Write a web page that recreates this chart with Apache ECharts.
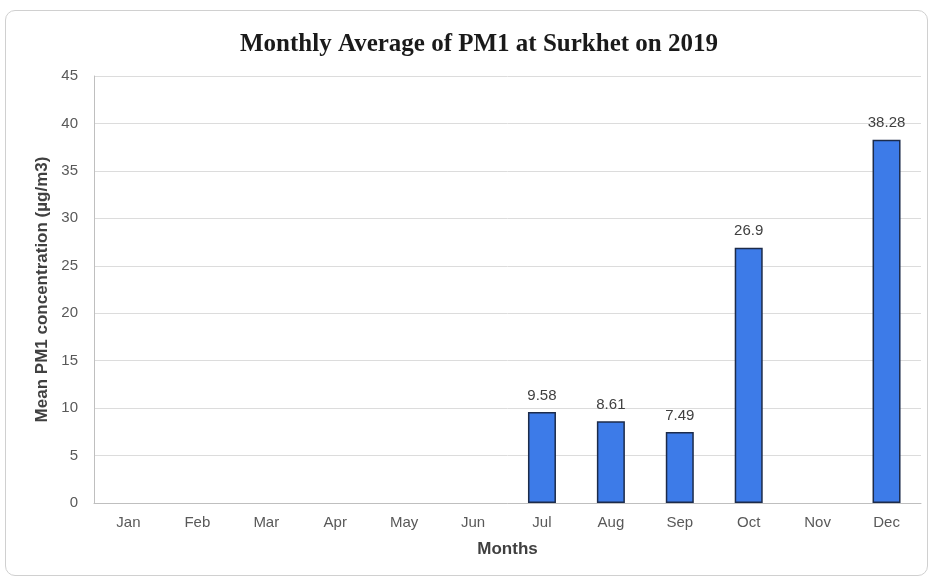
<!DOCTYPE html>
<html>
<head>
<meta charset="utf-8">
<script src="https://cdn.jsdelivr.net/npm/echarts@6/dist/echarts.min.js"></script>
<style>
  html, body { margin: 0; padding: 0; background: #fff; }
  .frame {
    position: absolute;
    left: 5px; top: 10px;
    width: 923px; height: 566px;
    border: 1px solid #d0d0d0;
    border-radius: 10px;
    box-sizing: border-box;
  }
  #chart { position: absolute; left: 0; top: 0; width: 933px; height: 581px; }
</style>
</head>
<body>
<div class="frame"></div>
<div id="chart"></div>
<script>
const months = ['Jan', 'Feb', 'Mar', 'Apr', 'May', 'Jun', 'Jul', 'Aug', 'Sep', 'Oct', 'Nov', 'Dec']
const pm1 = [null, null, null, null, null, null, 9.58, 8.61, 7.49, 26.9, null, 38.28]

const chart = echarts.init(document.getElementById('chart'))

const option = {
  animation: false,
  title: {
    text: 'Monthly Average of PM1 at Surkhet on 2019',
    left: 474,
    textAlign: 'center',
    top: 27,
    textStyle: {
      fontFamily: 'Liberation Serif',
      fontWeight: 'bold',
      fontSize: 25,
      color: '#1a1a1a'
    }
  },
  grid: {
    left: 94,
    right: 12,
    top: 76,
    bottom: 78
  },
  xAxis: {
    type: 'category',
    data: months,
    name: 'Months',
    nameLocation: 'middle',
    nameGap: 38,
    nameTextStyle: {
      fontFamily: 'Liberation Sans',
      fontWeight: 'bold',
      fontSize: 17,
      color: '#404040'
    },
    axisLine: { lineStyle: { color: '#bfbfbf' } },
    axisTick: { show: false },
    axisLabel: {
      fontFamily: 'Liberation Sans',
      fontSize: 15,
      color: '#595959',
      margin: 12
    }
  },
  yAxis: {
    type: 'value',
    min: 0,
    max: 45,
    interval: 5,
    name: 'Mean PM1 concentration (µg/m3)',
    nameLocation: 'middle',
    nameGap: 41,
    nameTextStyle: {
      fontFamily: 'Liberation Sans',
      fontWeight: 'bold',
      fontSize: 17,
      color: '#404040'
    },
    axisLine: { show: true, lineStyle: { color: '#bfbfbf' } },
    axisTick: { show: false },
    splitLine: { lineStyle: { color: '#dcdcdc' } },
    axisLabel: {
      fontFamily: 'Liberation Sans',
      fontSize: 15,
      color: '#595959',
      margin: 16
    }
  },
  series: [
    {
      type: 'bar',
      data: pm1,
      barWidth: 28,
      itemStyle: {
        color: '#3d7be8',
        borderColor: '#1c2b4a',
        borderWidth: 1.5
      },
      label: {
        show: true,
        position: 'top',
        distance: 9,
        fontFamily: 'Liberation Sans',
        fontSize: 15,
        color: '#404040'
      }
    }
  ]
}

chart.setOption(option)
</script>
</body>
</html>
